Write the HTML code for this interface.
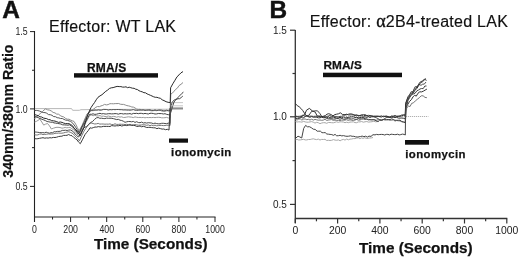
<!DOCTYPE html>
<html><head><meta charset="utf-8"><style>
html,body{margin:0;padding:0;background:#fff;}
body{width:520px;height:259px;overflow:hidden;}
svg{display:block;filter:blur(0.3px);font-family:"Liberation Sans",sans-serif;}
</style></head><body>
<svg width="520" height="259" viewBox="0 0 520 259">
<rect width="520" height="259" fill="#fff"/>
<line x1="34.5" y1="31" x2="34.5" y2="222" stroke="#222" stroke-width="1.1"/>
<line x1="34.5" y1="217.0" x2="215.5" y2="217.0" stroke="#222" stroke-width="1.1"/>
<line x1="30" y1="31.6" x2="34.5" y2="31.6" stroke="#222" stroke-width="1"/>
<line x1="30" y1="108.9" x2="34.5" y2="108.9" stroke="#222" stroke-width="1"/>
<line x1="30" y1="186.4" x2="34.5" y2="186.4" stroke="#222" stroke-width="1"/>
<line x1="32" y1="70.25" x2="34.5" y2="70.25" stroke="#222" stroke-width="1"/>
<line x1="32" y1="147.65" x2="34.5" y2="147.65" stroke="#222" stroke-width="1"/>
<line x1="34.5" y1="217.0" x2="34.5" y2="222.0" stroke="#222" stroke-width="1"/>
<line x1="52.55" y1="217.0" x2="52.55" y2="219.5" stroke="#222" stroke-width="1"/>
<line x1="70.6" y1="217.0" x2="70.6" y2="222.0" stroke="#222" stroke-width="1"/>
<line x1="88.65" y1="217.0" x2="88.65" y2="219.5" stroke="#222" stroke-width="1"/>
<line x1="106.7" y1="217.0" x2="106.7" y2="222.0" stroke="#222" stroke-width="1"/>
<line x1="124.75" y1="217.0" x2="124.75" y2="219.5" stroke="#222" stroke-width="1"/>
<line x1="142.8" y1="217.0" x2="142.8" y2="222.0" stroke="#222" stroke-width="1"/>
<line x1="160.85" y1="217.0" x2="160.85" y2="219.5" stroke="#222" stroke-width="1"/>
<line x1="178.9" y1="217.0" x2="178.9" y2="222.0" stroke="#222" stroke-width="1"/>
<line x1="196.95" y1="217.0" x2="196.95" y2="219.5" stroke="#222" stroke-width="1"/>
<line x1="215.0" y1="217.0" x2="215.0" y2="222.0" stroke="#222" stroke-width="1"/>
<line x1="295.3" y1="30" x2="295.3" y2="223" stroke="#333" stroke-width="1.3"/>
<line x1="295.3" y1="218.5" x2="507.3" y2="218.5" stroke="#333" stroke-width="1.3"/>
<line x1="290" y1="30.2" x2="295.3" y2="30.2" stroke="#333" stroke-width="1.2"/>
<line x1="290" y1="116.8" x2="295.3" y2="116.8" stroke="#333" stroke-width="1.2"/>
<line x1="290" y1="204.4" x2="295.3" y2="204.4" stroke="#333" stroke-width="1.2"/>
<line x1="292.5" y1="73.5" x2="295.3" y2="73.5" stroke="#333" stroke-width="1.2"/>
<line x1="292.5" y1="160.6" x2="295.3" y2="160.6" stroke="#333" stroke-width="1.2"/>
<line x1="295.3" y1="218.5" x2="295.3" y2="223.5" stroke="#333" stroke-width="1.2"/>
<line x1="316.45" y1="218.5" x2="316.45" y2="221.3" stroke="#333" stroke-width="1.2"/>
<line x1="337.6" y1="218.5" x2="337.6" y2="223.5" stroke="#333" stroke-width="1.2"/>
<line x1="358.75" y1="218.5" x2="358.75" y2="221.3" stroke="#333" stroke-width="1.2"/>
<line x1="379.9" y1="218.5" x2="379.9" y2="223.5" stroke="#333" stroke-width="1.2"/>
<line x1="401.05" y1="218.5" x2="401.05" y2="221.3" stroke="#333" stroke-width="1.2"/>
<line x1="422.20000000000005" y1="218.5" x2="422.20000000000005" y2="223.5" stroke="#333" stroke-width="1.2"/>
<line x1="443.35" y1="218.5" x2="443.35" y2="221.3" stroke="#333" stroke-width="1.2"/>
<line x1="464.5" y1="218.5" x2="464.5" y2="223.5" stroke="#333" stroke-width="1.2"/>
<line x1="485.65" y1="218.5" x2="485.65" y2="221.3" stroke="#333" stroke-width="1.2"/>
<line x1="506.8" y1="218.5" x2="506.8" y2="223.5" stroke="#333" stroke-width="1.2"/>
<polyline points="35.0,108.6 71.6,108.6 72.6,110.3 79.3,110.3 81.0,109.7 100.0,109.5 140.0,109.3 183.0,109.2" fill="none" stroke="#b8b8b8" stroke-width="1.0" stroke-linejoin="round" />
<polyline points="34.5,122.0 36.3,121.4 38.0,120.4 39.8,119.2 41.8,122.0 43.7,125.1 45.6,124.1 47.5,123.5 49.5,125.9 51.4,129.0 53.7,128.1 56.0,127.4 58.0,127.3 60.0,127.5 62.0,128.2 63.6,127.9 65.2,127.4 66.8,127.8 68.4,127.6 70.0,127.3 71.7,128.7 73.3,129.5 75.0,131.2 77.0,133.9 79.0,136.2 80.7,132.6 82.3,129.0 84.0,125.9 85.9,122.4 87.8,119.0 89.7,115.4 91.4,115.1 93.1,115.7 94.8,115.3 96.6,115.9 98.3,115.9 100.0,115.6 101.7,116.3 103.3,116.1 105.0,116.5 106.7,116.5 108.3,116.0 110.0,116.5 111.7,116.9 113.3,116.4 115.0,116.6 116.7,117.2 118.3,116.6 120.0,117.1 121.7,116.8 123.3,117.5 125.0,117.4 126.7,117.1 128.3,116.8 130.0,117.0 131.7,117.2 133.3,117.6 135.0,116.9 136.7,117.3 138.3,117.5 140.0,117.4 141.7,117.6 143.3,117.4 145.0,117.8 146.7,117.5 148.3,117.6 150.0,117.5 151.7,117.6 153.3,117.4 155.0,117.6 156.7,117.4 158.3,117.3 160.0,117.4 161.7,117.8 163.3,117.8 165.0,117.7 166.7,117.4 168.3,118.0 170.0,117.8" fill="none" stroke="#9a9a9a" stroke-width="1.0" stroke-linejoin="round" />
<polyline points="170.0,117.8 170.8,109.2" fill="none" stroke="#555" stroke-width="1.0" stroke-linejoin="round" />
<polyline points="170.8,109.2 183.0,109.2" fill="none" stroke="#c2c2c2" stroke-width="0.9" stroke-linejoin="round" />
<polyline points="34.5,119.0 36.0,117.1 37.6,116.3 39.2,114.7 40.8,112.8 42.4,111.6 44.0,110.1 45.6,108.8 47.5,109.8 49.4,110.1 51.2,110.9 53.1,112.4 55.0,112.9 56.7,114.1 58.5,114.2 60.2,115.5 62.0,116.5 63.7,116.9 65.5,118.4 67.2,119.2 69.0,119.2 70.7,120.1 72.3,120.8 74.0,121.4 75.7,124.2 77.3,127.4 79.0,130.9 82.0,125.6 83.7,121.7 85.3,117.9 87.0,114.0 88.8,112.5 90.5,111.2 92.3,109.8 94.0,108.8 95.8,107.3 97.5,106.5 99.3,106.7 101.0,105.9 102.8,105.4 104.5,104.4 106.3,104.9 108.1,104.6 109.9,103.7 111.6,103.7 113.4,103.8 115.2,103.6 117.0,103.6 118.7,103.5 120.3,104.2 122.0,104.4 123.6,104.4 125.3,105.0 126.9,105.6 128.6,105.9 130.2,106.3 131.8,107.0 133.4,107.1 135.1,108.0 136.7,109.1 138.3,109.4 140.0,109.3 141.6,109.8 143.3,110.1 145.0,110.2 146.7,110.1 148.3,110.3 150.0,110.5 151.7,110.8 153.3,110.6 155.0,110.5 156.7,110.7 158.3,110.3 160.0,110.3 161.7,111.0 163.3,111.3 165.0,111.0 166.7,110.8 168.3,110.7 170.0,111.0 170.8,94.0 172.4,93.1 174.1,91.2 175.7,89.3 177.4,88.1 179.0,85.6 181.0,84.3 183.0,82.5" fill="none" stroke="#8a8a8a" stroke-width="1.0" stroke-linejoin="round" />
<polyline points="34.5,134.7 36.2,135.0 37.9,134.9 39.6,134.1 41.3,134.0 43.0,134.6 44.8,134.4 46.5,134.3 48.2,133.9 49.9,134.1 51.6,134.0 53.3,133.9 55.0,133.3 56.7,133.3 58.4,133.1 60.1,133.2 61.9,133.2 63.6,132.9 65.3,132.4 67.0,132.1 68.7,131.7 70.8,132.5 73.0,133.6 74.6,135.6 76.2,137.1 77.8,138.8 79.4,140.9 81.7,135.8 84.0,131.1 85.9,128.2 87.8,125.5 89.7,123.2 91.4,123.1 93.1,123.5 94.8,124.0 96.5,123.8 98.2,123.4 99.8,124.1 101.5,124.0 103.2,124.0 104.9,124.2 106.6,124.1 108.3,124.2 110.0,123.9 111.7,124.5 113.3,124.5 115.0,123.8 116.7,124.4 118.3,124.4 120.0,124.2 121.7,124.3 123.3,124.3 125.0,124.7 126.7,124.3 128.3,124.7 130.0,124.3 131.7,124.8 133.3,124.9 135.0,124.6 136.7,124.8 138.3,125.2 140.0,125.1 141.7,124.9 143.3,124.7 145.0,124.9 146.7,125.3 148.3,124.9 150.0,125.7 151.7,125.1 153.3,125.7 155.0,125.2 156.7,125.8 158.3,125.6 160.0,125.4 161.7,125.4 163.3,125.6 165.0,125.5 166.7,125.3 168.3,125.2 170.0,125.5" fill="none" stroke="#777" stroke-width="1.0" stroke-linejoin="round" />
<polyline points="170.0,125.5 170.8,102.6" fill="none" stroke="#555" stroke-width="1.0" stroke-linejoin="round" />
<polyline points="170.8,102.6 183.0,102.6" fill="none" stroke="#c2c2c2" stroke-width="0.9" stroke-linejoin="round" />
<polyline points="34.5,110.6 36.2,110.4 37.9,110.6 39.7,111.1 41.5,111.9 43.2,112.5 45.0,112.6 46.7,113.2 48.5,114.6 50.2,114.7 52.0,115.3 53.7,116.6 55.5,116.7 57.2,117.7 58.9,117.9 60.6,118.5 62.3,118.5 64.0,119.4 65.6,120.1 67.3,120.3 69.0,120.9 70.7,121.4 72.8,123.2 75.0,126.2 77.2,129.6 79.4,132.8 81.7,127.1 84.0,122.3 86.0,118.1 88.0,114.5 90.0,110.8 91.7,110.6 93.3,110.6 95.0,110.1 96.7,110.3 98.3,109.9 100.0,110.2 101.7,110.1 103.3,109.4 105.0,109.4 106.7,109.5 108.3,110.1 110.0,109.6 111.7,109.8 113.3,109.5 115.0,109.7 116.7,109.5 118.3,109.5 120.0,109.7 121.7,109.7 123.3,110.0 125.0,109.9 126.7,110.1 128.3,110.1 130.0,110.2 131.7,110.0 133.3,109.6 135.0,110.2 136.7,110.4 138.3,110.3 140.0,110.1 141.7,110.2 143.3,109.8 145.0,110.4 146.7,110.2 148.3,109.9 150.0,109.8 151.7,110.5 153.3,110.6 155.0,109.9 156.7,110.5 158.3,110.2 160.0,110.0 161.7,110.2 163.3,110.7 165.0,110.9 166.7,110.2 168.3,110.8 170.0,110.4 172.2,102.2 174.1,100.0 176.1,99.2 178.0,97.7 179.8,95.3 181.5,94.2 183.3,91.8" fill="none" stroke="#555" stroke-width="1.0" stroke-linejoin="round" />
<polyline points="34.5,116.4 36.3,116.9 38.2,117.6 40.0,118.6 41.9,119.2 43.7,119.9 45.4,120.6 47.1,121.5 48.8,121.8 50.5,122.2 52.3,122.2 54.0,122.9 55.7,123.1 57.4,123.4 59.1,123.7 60.9,124.0 62.6,124.8 64.4,124.9 66.2,125.0 67.9,125.2 69.7,124.8 71.8,126.4 74.0,128.1 76.2,131.1 78.4,134.1 80.3,130.9 82.1,126.9 84.0,124.1 85.9,121.0 87.8,117.7 89.7,114.2 91.4,114.3 93.1,113.8 94.8,114.4 96.6,114.2 98.3,113.7 100.0,113.3 101.7,113.9 103.3,113.6 105.0,114.0 106.7,114.0 108.3,113.7 110.0,113.7 111.7,113.9 113.3,113.8 115.0,113.6 116.7,113.7 118.3,114.2 120.0,113.6 121.7,113.6 123.3,114.0 125.0,113.7 126.7,113.9 128.3,113.8 130.0,113.6 131.7,114.2 133.3,113.4 135.0,113.5 136.7,113.3 138.3,113.7 140.0,113.3 141.7,113.4 143.3,113.8 145.0,113.4 146.7,113.7 148.3,114.0 150.0,113.3 151.7,113.3 153.3,113.5 155.0,114.0 156.7,113.9 158.3,113.5 160.0,113.6 161.7,113.6 163.3,114.0 165.0,113.7 166.7,114.4 168.3,114.7 170.0,114.9 172.0,108.3 174.0,102.0 176.0,99.5 178.0,98.7 179.6,98.7 181.2,97.5 182.8,96.1" fill="none" stroke="#444" stroke-width="1.0" stroke-linejoin="round" />
<polyline points="34.5,131.9 36.2,132.1 37.8,132.3 39.5,132.5 41.1,132.7 42.8,132.6 44.4,132.9 46.1,132.2 47.7,132.7 49.4,133.2 51.0,132.7 52.6,132.7 54.2,131.7 55.8,131.8 57.4,131.4 59.0,131.4 60.7,131.2 62.3,130.4 63.9,130.4 65.5,130.2 67.1,130.5 68.7,130.1 70.3,129.9 72.0,130.8 73.6,131.9 75.2,134.2 76.8,135.5 78.4,137.2 80.3,134.7 82.1,130.9 84.0,127.7 86.3,126.6 88.7,124.7 90.6,122.5 92.6,121.5 94.5,119.4 96.4,117.9 98.1,117.5 99.8,118.3 101.5,118.2 103.2,118.5 104.9,118.6 106.6,118.1 108.3,118.3 110.0,118.2 111.7,118.4 113.3,118.6 115.0,119.1 116.7,119.6 118.3,119.3 120.0,120.2 121.7,120.5 123.3,121.2 125.0,122.3 126.7,121.8 128.3,121.5 130.0,121.5 131.7,121.8 133.3,121.4 135.0,122.4 136.7,121.7 138.3,122.5 140.0,122.7 141.7,122.1 143.3,123.0 145.0,122.7 146.7,123.1 148.3,122.7 150.0,122.9 151.7,123.0 153.3,123.7 155.0,123.1 156.7,123.6 158.3,123.8 160.0,123.8 161.7,123.3 163.3,123.3 165.0,123.5 166.7,123.7 168.3,123.1 170.0,123.5" fill="none" stroke="#4a4a4a" stroke-width="1.0" stroke-linejoin="round" />
<polyline points="170.0,123.5 170.8,105.8" fill="none" stroke="#555" stroke-width="1.0" stroke-linejoin="round" />
<polyline points="170.8,105.8 183.0,105.8" fill="none" stroke="#c2c2c2" stroke-width="0.9" stroke-linejoin="round" />
<polyline points="34.5,138.6 36.2,138.8 37.9,138.7 39.6,138.3 41.3,138.0 43.0,137.7 44.8,138.2 46.5,137.9 48.2,138.1 49.9,137.7 51.6,137.9 53.3,137.4 55.0,137.5 56.7,137.2 58.4,136.6 60.1,136.3 61.9,136.2 63.6,135.4 65.3,135.4 67.0,135.3 68.7,134.5 70.3,135.4 72.0,135.7 73.7,137.4 75.3,138.5 77.0,139.9 78.6,142.1 80.3,143.7 82.7,139.2 85.0,134.6 86.7,132.4 88.3,130.5 90.0,127.8 91.7,128.2 93.3,127.6 95.0,127.0 96.7,127.1 98.3,126.6 100.0,126.9 101.7,126.8 103.3,126.4 105.0,126.4 106.7,126.4 108.3,126.4 110.0,126.5 111.7,125.6 113.3,125.8 115.0,126.0 116.7,125.7 118.3,125.8 120.0,125.3 121.7,126.0 123.3,125.6 125.0,125.2 126.7,125.6 128.3,125.2 130.0,125.0 131.7,125.5 133.3,125.3 135.0,125.6 136.7,126.4 138.3,126.4 140.0,126.0 141.7,126.8 143.3,126.3 145.0,126.8 146.7,127.5 148.3,127.4 150.0,127.3 151.7,127.6 153.5,127.8 155.2,127.8 156.9,128.7 158.6,128.1 160.4,128.6 162.1,129.1 163.8,129.0 165.5,129.7 167.3,129.3 169.0,130.1 170.0,108.1" fill="none" stroke="#3a3a3a" stroke-width="1.0" stroke-linejoin="round" />
<polyline points="170.0,108.1 183.0,108.1" fill="none" stroke="#555" stroke-width="1.0" stroke-linejoin="round" />
<polyline points="183.0,108.1" fill="none" stroke="#c2c2c2" stroke-width="0.9" stroke-linejoin="round" />
<polyline points="34.5,114.5 36.3,115.1 38.1,115.6 39.9,116.8 41.7,117.0 43.4,118.0 45.0,118.4 46.7,118.6 48.3,119.6 50.0,119.7 51.6,120.6 53.3,120.8 55.0,121.1 56.8,121.7 58.5,122.4 60.3,122.0 62.0,122.4 63.7,123.1 65.5,123.6 67.2,123.6 69.0,123.7 70.7,124.5 72.5,125.7 74.2,128.4 76.0,129.8 78.2,132.7 80.3,135.7 82.2,131.3 84.0,127.3 86.0,120.2 88.0,114.1 91.0,107.6 92.8,104.9 94.5,102.6 96.2,99.8 98.0,97.3 100.0,95.9 102.0,94.7 104.0,92.9 105.8,91.3 107.6,90.1 109.4,88.5 111.3,87.8 113.1,87.6 115.0,87.0 117.1,86.4 119.2,86.6 120.9,86.6 122.6,87.1 124.3,87.1 126.0,86.8 127.6,87.7 129.2,87.2 130.8,87.7 132.4,88.2 134.1,88.3 135.7,89.2 137.3,89.5 139.0,90.7 140.6,91.4 142.2,91.8 143.9,92.7 145.5,92.8 147.1,93.9 148.8,94.6 150.4,95.3 152.0,96.0 153.7,96.8 155.3,97.3 156.9,97.3 158.6,97.9 160.4,98.3 162.2,99.8 164.0,100.6 166.1,101.7 168.1,102.3 170.2,102.7 170.6,87.8 172.8,83.8 175.0,80.2 177.0,76.8 179.0,74.9 181.0,72.8 183.0,71.6" fill="none" stroke="#2a2a2a" stroke-width="1.0" stroke-linejoin="round" />
<polyline points="296.0,116.5 428.4,116.5" fill="none" stroke="#b0b0b0" stroke-width="1.0" stroke-linejoin="round" stroke-dasharray="1.2,0.8"/>
<polyline points="295.5,121.5 297.1,122.0 298.7,121.8 300.3,121.9 301.9,122.1 303.6,121.4 305.2,121.9 306.8,122.2 308.4,122.2 310.0,121.9 311.7,121.6 313.3,122.2 315.0,123.1 316.7,122.3 318.3,122.7 320.0,123.7 321.7,123.0 323.3,122.7 325.0,122.7 326.7,123.3 328.3,122.5 330.0,122.5 331.7,122.7 333.3,122.8 335.0,122.3 336.7,121.8 338.3,122.4 340.0,121.8 341.7,121.9 343.3,122.0 345.0,122.7 346.7,122.2 348.3,122.7 350.0,122.1 351.7,122.0 353.3,121.8 355.0,122.6 356.7,122.7 358.3,121.9 360.0,121.9 361.7,121.5 363.3,122.2 365.0,121.8 366.8,121.5 368.5,122.1 370.2,121.9 372.0,121.7 373.8,121.3 375.5,121.8 377.2,121.6 379.0,121.5" fill="none" stroke="#a8a8a8" stroke-width="1.0" stroke-linejoin="round" />
<polyline points="295.5,139.8 297.1,139.4 298.7,140.0 300.4,139.9 302.0,139.6 303.6,139.3 305.2,139.9 306.8,139.9 308.4,139.5 310.1,139.5 311.7,139.1 313.3,138.8 315.0,139.3 316.6,139.6 318.3,139.1 320.0,140.0 321.7,139.4 323.3,139.5 325.0,139.3 326.7,140.5 328.4,140.3 330.0,140.5 331.7,140.3 333.4,139.6 335.1,140.1 336.7,140.3 338.4,139.9 340.1,140.8 341.7,139.9 343.4,139.4 345.0,140.1 346.7,139.0 348.4,139.8 350.0,139.1 351.7,139.0 353.3,138.6 355.0,138.6 356.6,138.1 358.3,137.8 359.9,138.7 361.5,137.9 363.2,138.4 364.8,137.7 366.5,138.5 368.1,138.3 369.7,138.0 371.4,137.9 373.0,137.5" fill="none" stroke="#a8a8a8" stroke-width="1.0" stroke-linejoin="round" />
<polyline points="295.5,119.5 297.1,120.0 298.7,119.1 300.3,118.9 301.9,120.1 303.6,119.1 305.2,119.0 306.8,119.7 308.4,119.3 310.0,120.0 311.7,119.2 313.3,120.1 315.0,119.4 316.7,119.8 318.3,120.2 320.0,120.0 321.7,120.3 323.3,120.1 325.0,119.3 326.7,120.4 328.3,120.1 330.0,119.8 331.7,119.6 333.3,120.4 335.0,120.1 336.7,120.5 338.3,120.3 340.0,120.6 341.7,120.1 343.3,120.2 345.0,120.1 346.7,119.7 348.3,120.5 350.0,119.8 351.7,120.3 353.3,120.5 355.0,120.1 356.7,119.4 358.3,120.2 360.0,120.0 361.7,119.3 363.3,119.1 365.0,119.7 366.7,119.0 368.3,120.1 370.0,119.5 371.7,119.6 373.3,119.5 375.0,119.8 376.7,120.2 378.3,119.5 380.0,119.6 381.7,119.9 383.3,119.6 385.0,120.0 386.7,120.0 388.3,119.9 390.0,120.2 391.7,120.2 393.3,119.8 395.0,121.1 396.7,120.5 398.3,120.8 400.0,120.9 401.8,121.8 403.5,122.2 405.3,122.0 406.7,108.2 408.4,105.9 410.0,106.6 411.7,103.3 413.4,102.9 415.3,100.9 417.3,99.3 419.2,97.8 421.2,95.8 423.1,95.8 425.0,97.4 426.9,97.7" fill="none" stroke="#777" stroke-width="1.0" stroke-linejoin="round" />
<polyline points="295.5,116.0 297.4,116.4 299.2,116.3 301.1,116.1 303.0,115.0 304.8,115.9 306.5,115.9 308.2,116.3 310.0,116.1 311.7,116.1 313.4,116.4 315.1,116.2 316.9,116.4 318.6,115.9 320.3,116.0 322.0,116.8 323.6,116.3 325.2,116.3 326.8,116.5 328.4,115.9 330.0,115.5 331.7,116.4 333.3,116.3 335.0,116.4 336.7,116.5 338.3,117.0 340.0,116.3 341.8,116.3 343.5,115.3 345.2,115.1 347.0,114.7 348.7,114.1 350.3,113.7 352.0,114.0 354.0,114.8 356.0,115.1 358.0,115.4 359.8,115.5 361.5,114.8 363.2,114.6 365.0,114.6 366.8,115.6 368.5,115.3 370.2,115.6 372.0,116.0 374.0,116.6 376.0,117.6 378.0,118.6 380.0,119.9 382.0,120.3 384.0,119.1 386.0,117.7 388.0,117.3 390.0,117.3 392.0,116.6 393.6,116.0 395.2,115.6 396.8,116.2 398.4,115.9 400.0,115.9 401.8,114.9 403.5,114.9 405.3,114.5 405.6,103.5 407.3,99.2 409.0,96.2 411.0,91.8 413.0,91.6 415.0,86.8 417.0,86.6 419.0,84.4 421.0,85.3 422.7,84.2 424.3,84.1 426.0,82.0" fill="none" stroke="#555" stroke-width="1.0" stroke-linejoin="round" />
<polyline points="295.5,118.5 297.4,118.5 299.2,118.4 301.1,117.4 303.0,118.1 306.0,116.1 309.0,115.2 311.5,111.5 314.5,110.9 317.5,110.8 320.0,113.7 322.0,116.8 323.6,117.2 325.2,117.2 326.8,118.1 328.4,118.7 330.0,118.0 331.7,118.6 333.3,119.1 335.0,118.9 336.7,118.6 338.3,118.5 340.0,119.3 341.7,118.3 343.3,119.1 345.0,119.3 346.7,118.5 348.3,118.8 350.0,118.8 351.7,119.0 353.3,118.7 355.0,119.3 356.7,119.3 358.3,118.5 360.0,119.1 361.7,118.1 363.3,118.1 365.0,118.7 366.8,119.1 368.5,119.4 370.2,119.8 372.0,119.9 374.0,119.7 376.0,120.8 378.0,121.5 379.7,120.2 381.3,120.3 383.0,119.6 384.8,119.3 386.5,119.5 388.2,119.5 390.0,119.6 391.7,118.8 393.3,119.5 395.0,120.3 396.7,120.3 398.3,120.3 400.0,120.2 401.8,121.5 403.5,121.9 405.3,123.0 405.6,106.2 408.0,99.4 410.0,95.7 412.0,93.8 414.0,89.7 415.6,88.0 417.2,87.1 418.9,83.7 420.5,81.7 422.4,81.1 424.3,79.1 426.6,80.4" fill="none" stroke="#444" stroke-width="1.0" stroke-linejoin="round" />
<polyline points="295.5,117.0 297.1,116.7 298.8,117.3 300.4,117.0 302.0,116.2 304.6,114.7 306.5,110.2 309.4,108.4 312.3,110.9 315.2,112.1 317.2,116.0 318.8,116.4 320.4,116.8 322.0,116.5 323.7,116.3 325.4,115.5 327.0,114.2 328.7,113.7 330.9,114.5 333.0,115.9 334.8,114.6 336.6,114.2 338.5,113.8 340.3,112.8 342.6,114.5 345.0,114.7 346.7,114.2 348.3,114.9 350.0,114.9 351.7,114.8 353.3,114.9 355.0,115.5 356.7,115.0 358.3,115.7 360.0,115.7 361.7,115.3 363.3,116.2 365.0,115.3 366.7,115.5 368.3,116.3 370.0,115.7 371.7,116.0 373.3,116.2 375.0,116.1 376.7,116.2 378.3,116.3 380.0,116.3 381.7,115.9 383.3,116.8 385.0,116.2 386.7,116.1 388.3,116.7 390.0,117.4 391.7,117.3 393.3,117.3 395.0,117.5 396.7,117.4 398.4,118.1 400.1,118.1 401.9,118.0 403.6,118.3 405.3,119.0 405.6,107.5 407.6,104.7 409.6,101.4 411.3,99.7 413.0,96.9 414.6,95.3 416.3,96.1 418.0,93.2 419.8,91.8 421.6,91.9 423.3,91.2 425.1,90.1 426.9,89.1" fill="none" stroke="#333" stroke-width="1.0" stroke-linejoin="round" />
<polyline points="295.5,103.7 297.3,105.7 299.1,106.7 300.9,108.4 302.7,110.5 305.6,114.8 307.8,116.5 310.0,117.3 311.7,116.5 313.3,117.3 315.0,117.1 316.7,117.3 318.3,117.8 320.0,117.8 321.7,117.2 323.3,117.7 325.0,117.7 326.7,118.0 328.3,116.9 330.0,118.0 331.7,117.2 333.3,117.1 335.0,117.6 336.7,117.9 338.3,118.0 340.0,117.3 341.7,117.9 343.3,116.9 345.0,118.1 346.7,117.3 348.3,117.6 350.0,117.0 351.7,116.9 353.3,116.8 355.0,117.5 356.7,117.4 358.3,117.7 360.0,117.7 361.7,117.1 363.3,117.6 365.0,116.8 366.7,117.5 368.3,116.7 370.0,117.5 371.7,116.8 373.3,116.8 375.0,116.9 376.7,116.3 378.3,116.3 380.0,116.8 381.7,117.0 383.3,116.1 385.0,116.5 386.7,116.4 388.3,116.9 390.0,117.1 391.7,115.9 393.3,116.4 395.0,115.8 396.7,116.5 398.3,116.6 400.0,116.2 401.8,115.9 403.5,115.1 405.3,115.5 405.6,103.8 408.0,96.7 409.8,94.6 411.5,92.9 413.2,93.3 415.0,90.0 416.8,88.7 418.7,85.5 420.5,82.7 422.3,81.9 424.1,80.2 425.9,78.5" fill="none" stroke="#333" stroke-width="1.0" stroke-linejoin="round" />
<polyline points="295.5,138.4 298.0,136.2 299.9,137.0 301.7,138.0 303.7,128.4 305.6,125.4 307.5,126.8 309.4,126.7 311.3,127.7 313.3,129.2 315.2,129.4 317.2,131.2 318.8,131.2 320.4,131.2 322.0,132.7 323.6,132.7 325.2,132.6 326.8,134.0 328.5,134.2 330.1,134.4 331.8,134.6 333.4,135.3 335.1,134.4 336.7,135.8 338.4,135.7 340.1,135.3 341.8,135.9 343.5,135.6 345.2,136.1 347.0,136.3 348.7,136.2 350.4,135.8 352.1,136.3 353.8,136.3 355.5,136.8 357.2,137.0 358.9,136.8 360.6,136.5 362.2,136.1 363.9,136.7 365.6,136.2 367.3,137.1 369.0,136.1 371.0,136.4 373.0,134.7 375.0,134.9 376.6,134.4 378.2,134.7 379.8,134.5 381.4,134.4 383.1,134.5 384.7,135.0 386.3,134.4 387.9,134.4 389.5,134.9 391.1,134.2 392.7,134.4 394.3,134.6 395.9,134.6 397.6,134.2 399.2,134.9 400.8,134.6 402.4,134.1 404.0,134.4 405.3,135.0 405.6,110.5 408.0,100.6 410.0,97.0 412.0,94.4 413.6,93.9 415.2,93.1 416.8,90.9 418.4,90.1 420.0,89.0 421.6,88.5 423.2,88.6 424.9,86.0 426.5,86.0" fill="none" stroke="#444" stroke-width="1.0" stroke-linejoin="round" />
<rect x="74" y="73.2" width="84" height="4.4" fill="#111"/>
<rect x="169" y="138.5" width="19" height="4.2" fill="#111"/>
<rect x="323" y="72.7" width="79" height="4.5" fill="#111"/>
<rect x="405" y="140" width="24" height="4.7" fill="#111"/>
<text x="2.3" y="18.2" font-size="24.4" font-weight="bold" text-anchor="start" fill="#111" stroke="#111" stroke-width="0.45">A</text>
<text x="269.6" y="18.2" font-size="24.4" font-weight="bold" text-anchor="start" fill="#111" stroke="#111" stroke-width="0.45">B</text>
<text x="49.1" y="31.9" font-size="16" font-weight="normal" text-anchor="start" fill="#111" letter-spacing="0.26" stroke="#111" stroke-width="0.15">Effector: WT LAK</text>
<text x="309.7" y="27.3" font-size="16" font-weight="normal" text-anchor="start" fill="#111" letter-spacing="0.27" stroke="#111" stroke-width="0.15">Effector: <tspan font-family="Liberation Serif" font-size="18" stroke="#111" stroke-width="0.35">α</tspan>2B4-treated LAK</text>
<text x="87.1" y="71.6" font-size="12" font-weight="bold" text-anchor="start" fill="#111" letter-spacing="0.1" stroke="#111" stroke-width="0.25">RMA/S</text>
<text x="323.4" y="68.7" font-size="11.8" font-weight="bold" text-anchor="start" fill="#111" letter-spacing="0.1" stroke="#111" stroke-width="0.25">RMA/S</text>
<text x="171.1" y="155.6" font-size="11.4" font-weight="bold" text-anchor="start" fill="#111" letter-spacing="0.4" stroke="#111" stroke-width="0.25">ionomycin</text>
<text x="405.3" y="158.2" font-size="11.4" font-weight="bold" text-anchor="start" fill="#111" letter-spacing="0.4" stroke="#111" stroke-width="0.25">ionomycin</text>
<text x="93.9" y="249.3" font-size="15.3" font-weight="bold" text-anchor="start" fill="#111" stroke="#111" stroke-width="0.25">Time (Seconds)</text>
<text x="359.0" y="253.4" font-size="15.3" font-weight="bold" text-anchor="start" fill="#111" stroke="#111" stroke-width="0.25">Time (Seconds)</text>
<text transform="translate(12.6,111.1) rotate(-90)" x="0" y="0" font-size="14.2" font-weight="bold" text-anchor="middle" fill="#111" stroke="#111" stroke-width="0.2">340nm/380nm Ratio</text>
<text transform="translate(27.6,35.2) scale(0.86,1)" x="0" y="0" font-size="10.2" text-anchor="end" fill="#222">1.5</text>
<text transform="translate(27.6,112.5) scale(0.86,1)" x="0" y="0" font-size="10.2" text-anchor="end" fill="#222">1.0</text>
<text transform="translate(27.6,190.0) scale(0.86,1)" x="0" y="0" font-size="10.2" text-anchor="end" fill="#222">0.5</text>
<text transform="translate(34.5,232.6) scale(0.86,1)" x="0" y="0" font-size="10.2" text-anchor="middle" fill="#222">0</text>
<text transform="translate(70.6,232.6) scale(0.86,1)" x="0" y="0" font-size="10.2" text-anchor="middle" fill="#222">200</text>
<text transform="translate(106.7,232.6) scale(0.86,1)" x="0" y="0" font-size="10.2" text-anchor="middle" fill="#222">400</text>
<text transform="translate(142.8,232.6) scale(0.86,1)" x="0" y="0" font-size="10.2" text-anchor="middle" fill="#222">600</text>
<text transform="translate(178.9,232.6) scale(0.86,1)" x="0" y="0" font-size="10.2" text-anchor="middle" fill="#222">800</text>
<text transform="translate(215.0,232.6) scale(0.86,1)" x="0" y="0" font-size="10.2" text-anchor="middle" fill="#222">1000</text>
<text transform="translate(286.9,33.5) scale(1.0,1)" x="0" y="0" font-size="10.0" text-anchor="end" fill="#222">1.5</text>
<text transform="translate(286.9,120.1) scale(1.0,1)" x="0" y="0" font-size="10.0" text-anchor="end" fill="#222">1.0</text>
<text transform="translate(286.9,207.70000000000002) scale(1.0,1)" x="0" y="0" font-size="10.0" text-anchor="end" fill="#222">0.5</text>
<text transform="translate(295.3,233.6) scale(1.0,1)" x="0" y="0" font-size="10.4" text-anchor="middle" fill="#222">0</text>
<text transform="translate(337.6,233.6) scale(1.0,1)" x="0" y="0" font-size="10.4" text-anchor="middle" fill="#222">200</text>
<text transform="translate(379.9,233.6) scale(1.0,1)" x="0" y="0" font-size="10.4" text-anchor="middle" fill="#222">400</text>
<text transform="translate(422.20000000000005,233.6) scale(1.0,1)" x="0" y="0" font-size="10.4" text-anchor="middle" fill="#222">600</text>
<text transform="translate(464.5,233.6) scale(1.0,1)" x="0" y="0" font-size="10.4" text-anchor="middle" fill="#222">800</text>
<text transform="translate(506.8,233.6) scale(1.0,1)" x="0" y="0" font-size="10.4" text-anchor="middle" fill="#222">1000</text>
</svg>
</body></html>
